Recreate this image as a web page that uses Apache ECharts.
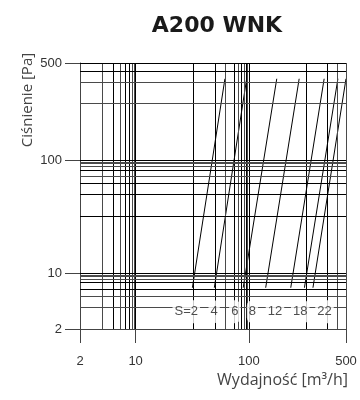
<!DOCTYPE html>
<html><head><meta charset="utf-8">
<style>html,body{margin:0;padding:0;background:#fff}#c{width:360px;height:400px}</style>
<script src="https://cdn.jsdelivr.net/npm/echarts@6.0.0/dist/echarts.min.js"></script>
</head><body><div id="c"></div>
<script>
// ---- data ----
const tickValues = [2, 10, 100, 500];
const xGridValues = [3.8, 5.2, 6.5, 7.5, 8.2, 9.2, 9.7, 10, 32, 50.7, 62, 74, 80, 86, 91, 95.5, 97.6, 100, 257, 365, 430, 500];
const yGridValues = [3.7, 5.1, 6.4, 7.7, 8.5, 9.1, 9.6, 10, 31.8, 49.6, 62, 72, 81.5, 88.5, 93.5, 96.6, 100, 258, 366, 437, 500];
const sLabels = ['S=2', '4', '6', '8', '12', '18', '22'];
const flowLow = [31.7, 49.5, 89, 132, 200, 251, 289];
const flowHigh = [61.4, 95.5, 158.6, 230, 348, 437, 500];
const pressLow = [6.6, 6.6, 6.6, 6.6, 6.6, 6.6, 6.6];
const pressHigh = [385, 385, 385, 385, 385, 385, 385];
const labelFlow = [28, 49.3, 75, 106, 154, 234, 350];
const labelPress = [3.3, 3.3, 3.3, 3.3, 3.3, 3.3, 3.3];

// ---- styles (kept apart from data) ----
const xDark = [0,1,0,1,1,0,0,1, 1,1,0,1,0,1,0,1,0,1, 1,1,0,0];
const yDark = [0,0,1,1,0,0,0,1, 1,1,1,0,1,0,0,0,1, 0,0,1,1];

// piecewise-logarithmic scale of the original drawing
const KN_T = [0, 55.4, 168.3, 265];
function fwd(v) {
  const l = Math.log10(v);
  const lv = tickValues.map(Math.log10);
  let i = 0;
  while (i < lv.length - 2 && l > lv[i + 1]) i++;
  return KN_T[i] + (l - lv[i]) / (lv[i + 1] - lv[i]) * (KN_T[i + 1] - KN_T[i]);
}
const tickT = tickValues.map(fwd);
function fmt(v) {
  for (let i = 0; i < tickT.length; i++) if (Math.abs(tickT[i] - v) < 0.5) return String(tickValues[i]);
  return '';
}

const DARK = '#000', GRAY = '#4a4a4a', AX = '#444';
const chart = echarts.init(document.getElementById('c'), null, {renderer: 'canvas'});

const gridMark = [].concat(
  xGridValues.map((v, i) => ({xAxis: fwd(v), lineStyle: {color: xDark[i] ? DARK : GRAY}})),
  yGridValues.map((v, i) => ({yAxis: fwd(v), lineStyle: {color: yDark[i] ? DARK : GRAY}}))
);

const series = [{
  type: 'line', data: [[0, 0]], showSymbol: false, silent: true, z: 1,
  markLine: {silent: true, symbol: ['none', 'none'], label: {show: false},
    lineStyle: {type: 'solid', width: 1}, emphasis: {disabled: true}, animation: false, data: gridMark}
}];
sLabels.forEach((n, i) => {
  series.push({type: 'line', name: n, showSymbol: false, silent: true, z: 3,
    lineStyle: {color: '#000', width: 1},
    data: [[fwd(flowLow[i]), fwd(pressLow[i])], [fwd(flowHigh[i]), fwd(pressHigh[i])]]});
});
series.push({type: 'scatter', silent: true, z: 5, symbolSize: 1, itemStyle: {color: 'rgba(0,0,0,0)'},
  label: {show: true, position: 'inside', formatter: '{b}', color: '#222', fontSize: 13,
    fontFamily: 'Liberation Sans', backgroundColor: '#fff', padding: [5, 2, 5, 2], borderRadius: 6},
  data: sLabels.map((n, i) => ({name: n, value: [fwd(labelFlow[i]), fwd(labelPress[i])]}))});

chart.setOption({
  animation: false,
  title: {text: 'A200 WNK', left: 212, top: 10, textAlign: 'center',
    textStyle: {fontFamily: 'DejaVu Sans', fontWeight: 'bold', fontSize: 22, color: '#1a1a1a'}},
  grid: {left: 80, top: 63, width: 266, height: 266},
  xAxis: {type: 'value', min: 0, max: 265, splitLine: {show: false},
    axisLine: {lineStyle: {color: AX}},
    axisTick: {customValues: tickT, length: 14, lineStyle: {color: AX}},
    axisLabel: {customValues: tickT, formatter: fmt, margin: 26, fontSize: 13, color: '#333', fontFamily: 'Liberation Sans'}},
  yAxis: {type: 'value', min: 0, max: 265, splitLine: {show: false},
    axisLine: {show: true, lineStyle: {color: AX}},
    axisTick: {show: true, customValues: tickT, length: 15, lineStyle: {color: AX}},
    axisLabel: {customValues: tickT, formatter: fmt, margin: 18, fontSize: 13, color: '#333', fontFamily: 'Liberation Sans'}},
  graphic: [
    {type: 'text', x: 28, y: 100, rotation: Math.PI / 2,
      style: {text: 'Ciśnienie [Pa]', font: '15px "Open Sans"', fill: '#444', align: 'center', verticalAlign: 'middle'}},
    {type: 'text', x: 348, y: 380,
      style: {text: 'Wydajność [m³/h]', font: '16px "Open Sans"', fill: '#444', align: 'right', verticalAlign: 'middle'}}
  ],
  series: series
});
</script></body></html>
